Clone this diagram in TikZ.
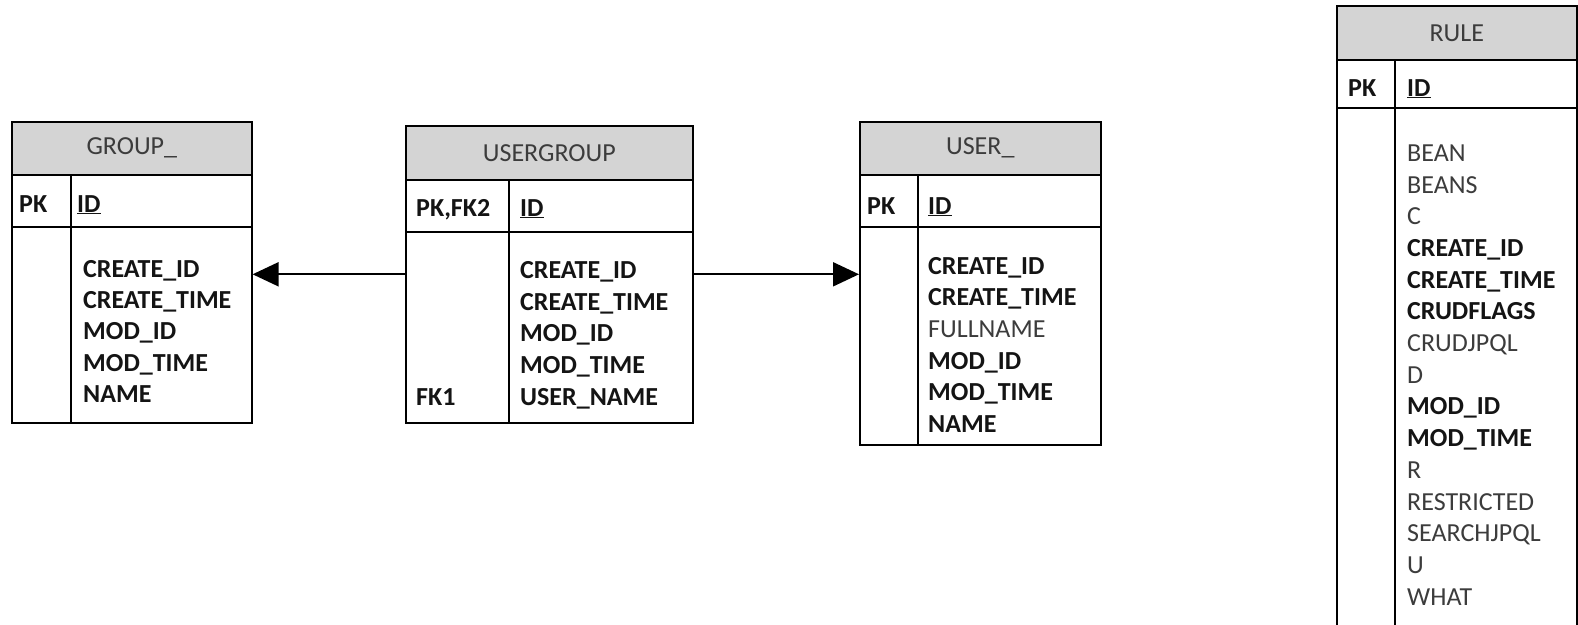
\documentclass[tikz,border=0pt]{standalone}
\usepackage{fontspec}
\setmainfont{Carlito}
\usetikzlibrary{arrows.meta}
\definecolor{hdrfill}{HTML}{D4D4D4}
\definecolor{txtgray}{HTML}{3C3C3C}
\definecolor{txtdark}{HTML}{141414}
\tikzset{
  tbl/.style={draw=black, line width=1.6pt, fill=white, inner sep=0pt, anchor=north west},
  hdr/.style={draw=black, line width=1.6pt, fill=hdrfill, inner sep=0pt, anchor=north west,
              text=txtgray, font=\fontsize{26}{30}\selectfont},
  key/.style={anchor=base west, inner sep=0pt, text=txtdark, font=\fontsize{26}{30}\selectfont\bfseries},
  fld/.style={anchor=base west, inner sep=0pt, text=txtgray, font=\fontsize{26}{30}\selectfont},
  rel/.style={line width=2pt, -{Triangle[length=26pt,width=24pt]}},
  sep/.style={line width=1.6pt},
}
\newcommand{\bfld}[1]{\textcolor{txtdark}{\bfseries #1}}
\begin{document}
\begin{tikzpicture}[x=1pt,y=-1pt]
\useasboundingbox (0,0) rectangle (1578,624);

% ---------- GROUP_ ----------
\node[tbl, minimum width=240pt, minimum height=301pt] (group) at (11,121) {};
\node[hdr, minimum width=240pt, minimum height=53pt] (grouph) at (11,121) {GROUP\_};
\draw[sep] (11,227) -- (251,227);
\draw[sep] (71,174) -- (71,422);
\node[key] (grouppk) at (19,212) {PK};
\node[key] (groupid) at (77,212) {\underline{ID}};
\foreach \t [count=\i] in {CREATE\_ID, CREATE\_TIME, MOD\_ID, MOD\_TIME, NAME}
  \node[key] (groupf\i) at (83, 277.3 + \i*31.3 - 31.3) {\t};

% ---------- USERGROUP ----------
\node[tbl, minimum width=287pt, minimum height=297pt] (ug) at (405,125) {};
\node[hdr, minimum width=287pt, minimum height=54pt] (ugh) at (405,125) {USERGROUP};
\draw[sep] (405,232) -- (692,232);
\draw[sep] (509,179) -- (509,422);
\node[key] (ugpk) at (416,216) {PK,FK2};
\node[key] (ugid) at (520,216) {\underline{ID}};
\foreach \t [count=\i] in {CREATE\_ID, CREATE\_TIME, MOD\_ID, MOD\_TIME, USER\_NAME}
  \node[key] (ugf\i) at (520, 278.3 + \i*31.8 - 31.8) {\t};
\node[key] (ugfk) at (416, 405.5) {FK1};

% ---------- USER_ ----------
\node[tbl, minimum width=241pt, minimum height=323pt] (user) at (859,121) {};
\node[hdr, minimum width=241pt, minimum height=53pt] (userh) at (859,121) {USER\_};
\draw[sep] (859,227) -- (1100,227);
\draw[sep] (918,174) -- (918,444);
\node[key] (userpk) at (867,214) {PK};
\node[key] (userid) at (928,214) {\underline{ID}};
\foreach \t [count=\i] in {\bfld{CREATE\_ID}, \bfld{CREATE\_TIME}, FULLNAME, \bfld{MOD\_ID}, \bfld{MOD\_TIME}, \bfld{NAME}}
  \node[fld] (userf\i) at (928, 274.3 + \i*31.6 - 31.6) {\t};

% ---------- RULE ----------
\node[tbl, minimum width=240pt, minimum height=640pt] (rule) at (1336,5) {};
\node[hdr, minimum width=240pt, minimum height=54pt] (ruleh) at (1336,5) {RULE};
\draw[sep] (1336,108) -- (1576,108);
\draw[sep] (1395,59) -- (1395,640);
\node[key] (rulepk) at (1348,96) {PK};
\node[key] (ruleid) at (1407,96) {\underline{ID}};
\foreach \t [count=\i] in {BEAN, BEANS, C, \bfld{CREATE\_ID}, \bfld{CREATE\_TIME}, \bfld{CRUDFLAGS},
    CRUDJPQL, D, \bfld{MOD\_ID}, \bfld{MOD\_TIME}, R, RESTRICTED, SEARCHJPQL, U, WHAT}
  \node[fld] (rulef\i) at (1407, 161.3 + \i*31.7 - 31.7) {\t};

% ---------- relationships ----------
\draw[rel] (ug.west) -- (ug.west -| group.east);
\draw[rel] (ug.east) -- (ug.east -| user.west);
\end{tikzpicture}
\end{document}
